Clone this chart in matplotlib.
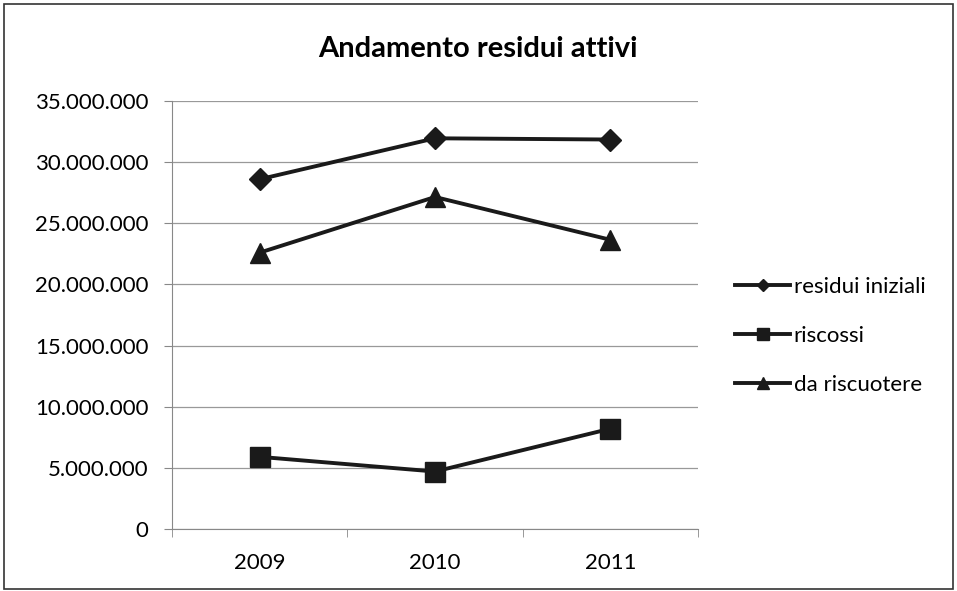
import matplotlib.pyplot as plt
from matplotlib.ticker import FuncFormatter
from matplotlib.patches import Rectangle

# Dati
anni = ['2009', '2010', '2011']
residui_iniziali = [28600000, 31950000, 31850000]
riscossi = [5900000, 4700000, 8200000]
da_riscuotere = [22600000, 27150000, 23650000]

plt.rcParams['font.family'] = ['Lato', 'DejaVu Sans']

fig = plt.figure(figsize=(9.57, 5.91), dpi=100)
ax = fig.add_axes([172 / 957, 62 / 591, 526 / 957, 428 / 591])

x = range(len(anni))
ax.plot(x, residui_iniziali, color='#1a1a1a', lw=2.8, marker='D', ms=11,
        label='residui iniziali')
ax.plot(x, riscossi, color='#1a1a1a', lw=2.8, marker='s', ms=14,
        label='riscossi')
ax.plot(x, da_riscuotere, color='#1a1a1a', lw=2.8, marker='^', ms=14,
        label='da riscuotere')

ax.set_xlim(-0.5, 2.5)
ax.set_ylim(0, 35000000)
ax.set_yticks(range(0, 35000001, 5000000))
ax.yaxis.set_major_formatter(FuncFormatter(lambda v, p: f'{int(v):,}'.replace(',', '.')))
ax.set_xticks(list(x))
ax.set_xticklabels(anni)
ax.set_xticks([-0.5, 0.5, 1.5, 2.5], minor=True)
ax.tick_params(axis='x', which='major', length=0, pad=17, labelsize=16)
ax.tick_params(axis='x', which='minor', length=6, color='#888888')
ax.tick_params(axis='y', length=6, color='#888888', labelsize=16, pad=11)

ax.grid(axis='y', color='#999999', lw=0.9)
ax.set_axisbelow(True)
for s in ['top', 'right']:
    ax.spines[s].set_visible(False)
ax.spines['left'].set_color('#888888')
ax.spines['bottom'].set_color('#888888')

fig.text(478 / 957, 1 - 49 / 591, 'Andamento residui attivi', ha='center', va='center',
         fontsize=21, fontweight='bold')

ax.legend(loc='center left', bbox_to_anchor=(1.07, 0.451), frameon=False,
          fontsize=16, handlelength=2.5, handletextpad=0.15, labelspacing=1.3,
          borderpad=0, borderaxespad=0, markerscale=0.6)

fig.patches.append(Rectangle((0.004, 0.004), 0.992, 0.99, transform=fig.transFigure,
                             fill=False, edgecolor='#333333', lw=1.2))

fig.savefig('out.png', dpi=100)
